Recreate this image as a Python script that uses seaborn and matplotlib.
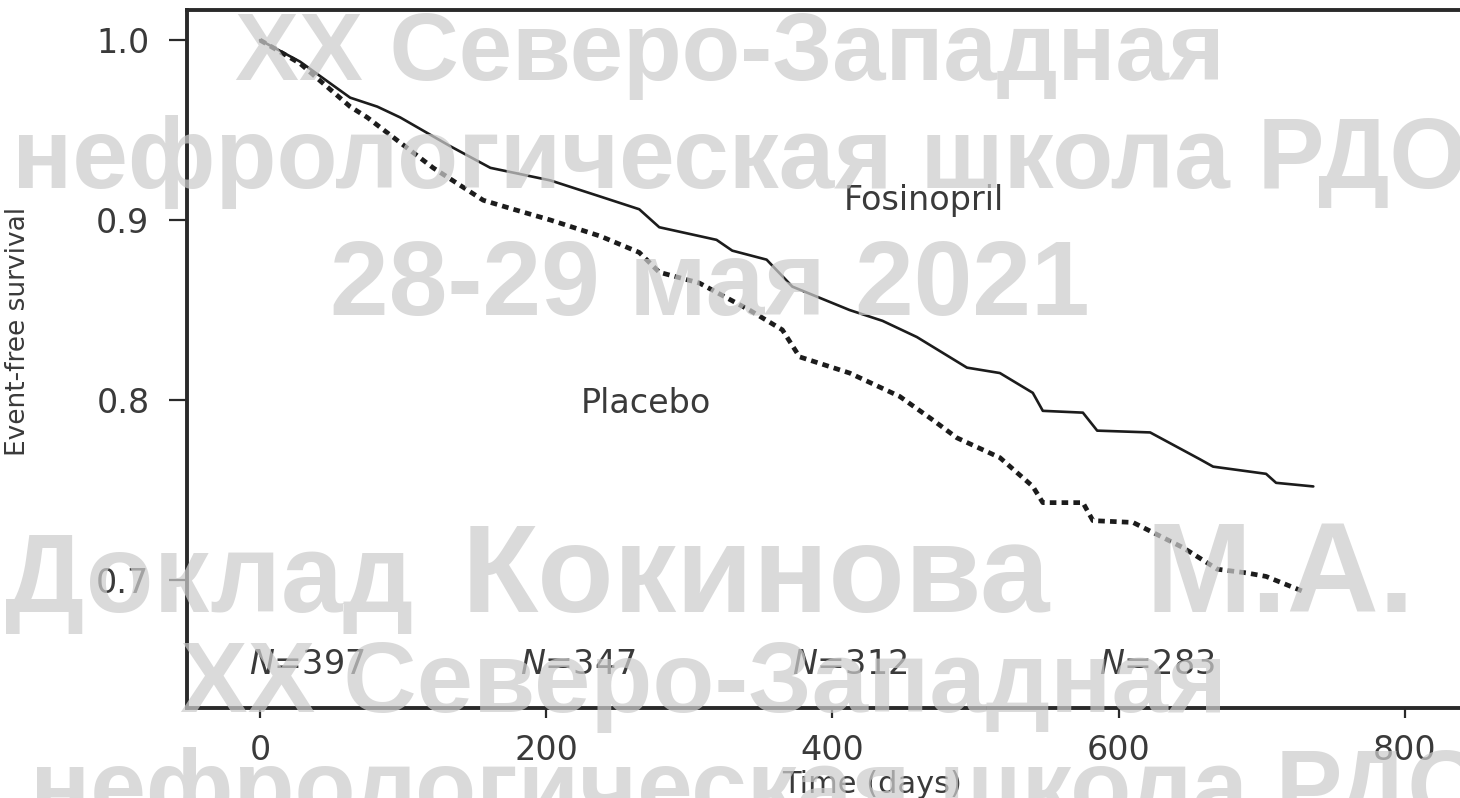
import matplotlib
matplotlib.use("Agg")
import matplotlib.pyplot as plt
import pandas as pd
import seaborn as sns

# Kaplan-Meier event-free survival, fosinopril vs placebo
fos_days = [0, 28, 63, 82, 98, 133, 161, 203, 238, 265, 279, 319, 330, 354, 372,
            412, 435, 459, 494, 517, 540, 547, 575, 585, 622, 657, 666, 703, 710, 736]
fos_surv = [1.0, 0.988, 0.968, 0.963, 0.957, 0.941, 0.929, 0.922, 0.913, 0.906, 0.896,
            0.889, 0.883, 0.878, 0.863, 0.850, 0.844, 0.835, 0.818, 0.815, 0.804, 0.794,
            0.793, 0.783, 0.782, 0.767, 0.763, 0.759, 0.754, 0.752]

pla_days = [0, 28, 63, 75, 98, 121, 156, 177, 203, 238, 265, 279, 307, 342, 365, 377,
            412, 447, 470, 487, 517, 540, 547, 575, 582, 610, 645, 669, 689, 703, 731]
pla_surv = [1.0, 0.987, 0.963, 0.957, 0.943, 0.929, 0.911, 0.906, 0.900, 0.891, 0.882,
            0.871, 0.865, 0.850, 0.839, 0.824, 0.815, 0.802, 0.789, 0.779, 0.768, 0.752,
            0.743, 0.743, 0.733, 0.732, 0.718, 0.706, 0.704, 0.702, 0.693]

# numbers at risk
risk_days = [33, 222, 412, 627]
risk_n = [397, 347, 312, 283]

x_ticks = [0, 200, 400, 600, 800]
y_ticks = [0.7, 0.8, 0.9, 1.0]

# conference watermark: (text, left px, baseline px, size pt)
watermark_items = [
    ("XX Северо-Западная", 235, 80, 69),
    ("нефрологическая школа РДО", 12, 188, 72),
    ("28-29 мая 2021", 330, 315, 76),
    ("Доклад", 5, 612, 80),
    ("Кокинова", 462, 612, 90),
    ("М.А.", 1145, 612, 92),
    ("XX Северо-Западная", 180, 712, 73),
    ("нефрологическая школа РДО", 30, 820, 72),
]

sns.set_theme(style="white")
plt.rcParams["font.family"] = ["DejaVu Sans"]

W, H = 1460, 798
fig = plt.figure(figsize=(W / 100, H / 100), dpi=100)
fig.patch.set_facecolor("white")

left_px, right_px, top_px, bottom_px = 187, 1470, 10, 708
ax = fig.add_axes([left_px / W, 1 - bottom_px / H,
                   (right_px - left_px) / W, (bottom_px - top_px) / H])

fos = pd.DataFrame({"days": fos_days, "surv": fos_surv})
pla = pd.DataFrame({"days": pla_days, "surv": pla_surv})

ink = "#1c1c1c"
sns.lineplot(data=fos, x="days", y="surv", ax=ax, color=ink, lw=1.9,
             sort=False, estimator=None)
sns.lineplot(data=pla, x="days", y="surv", ax=ax, color=ink, lw=3.4,
             sort=False, estimator=None, linestyle=(0, (1.4, 1.1)))

ax.set_xlim(-51, 845.5)
ax.set_ylim(0.6289, 1.0167)
ax.set_xticks(x_ticks)
ax.set_xticklabels([str(v) for v in x_ticks])
ax.set_yticks(y_ticks)
ax.set_yticklabels([f"{v:.1f}" for v in y_ticks])

for side in ["left", "bottom", "top"]:
    ax.spines[side].set_visible(True)
    ax.spines[side].set_color("#2a2a2a")
    ax.spines[side].set_linewidth(2.8)
ax.spines["right"].set_visible(False)

label_color = "#3a3a3a"
ax.tick_params(axis="y", direction="out", length=13, width=1.6, pad=14,
               colors="#2a2a2a", labelcolor=label_color, labelsize=24, left=True)
ax.tick_params(axis="x", direction="out", length=7, width=1.6, pad=12,
               colors="#2a2a2a", labelcolor=label_color, labelsize=24, bottom=True)

ax.set_xlabel("Time (days)", fontsize=22, color=label_color)
ax.xaxis.set_label_coords(0.534, -0.110)
ax.xaxis.label.set_va("center")
ax.set_ylabel("Event-free survival", fontsize=19, color=label_color)
ax.yaxis.set_label_coords(-0.1317, 0.539)
ax.yaxis.label.set_va("center")

ax.text(464, 0.911, "Fosinopril", fontsize=24, color=label_color,
        ha="center", va="center")
ax.text(270, 0.798, "Placebo", fontsize=24, color=label_color,
        ha="center", va="center")

for d, n in zip(risk_days, risk_n):
    ax.text(d, 0.6528, r"$\mathit{N}$" + f"={n}", fontsize=24, color=label_color,
            ha="center", va="center")

for txt, xl, yb, size in watermark_items:
    fig.text(xl / W, 1 - yb / H, txt, fontsize=size, fontweight="bold",
             family=["Liberation Sans", "DejaVu Sans"],
             color=(0.80, 0.80, 0.80, 0.72), ha="left", va="baseline", zorder=10)

fig.savefig("out.png", dpi=100, facecolor="white")
